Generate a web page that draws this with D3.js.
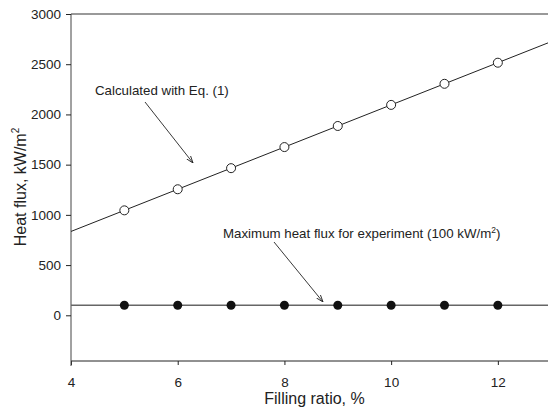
<!DOCTYPE html>
<html><head><meta charset="utf-8">
<script src="https://cdn.jsdelivr.net/npm/d3@7"></script>
<style>body{margin:0;background:#fff}svg{display:block}text{font-family:"Liberation Sans",Arial,sans-serif;fill:#222}</style>
</head><body><svg id="c" width="548" height="408"></svg>
<script>
const fillRatio = [5, 6, 7, 8, 9, 10, 11, 12];
const calcFlux = [1045, 1255, 1465, 1675, 1885, 2095, 2305, 2515];
const calcLineX = [4, 13];
const calcLineY = [835, 2725];
const expFlux = [100, 100, 100, 100, 100, 100, 100, 100];
const expLineX = [4, 13];
const expLineY = [100, 100];
const xTicks = [4, 6, 8, 10, 12];
const yTicks = [0, 500, 1000, 1500, 2000, 2500, 3000];

const svg = d3.select("#c");
const L = 71, R = 548, T = 14, B = 361;
const x = d3.scaleLinear().domain([4, 12.94]).range([L, R]);
const y = d3.scaleLinear().domain([-455, 3000]).range([B, T]);

svg.append("clipPath").attr("id","cp").append("rect").attr("x",L).attr("y",T).attr("width",R-L).attr("height",B-T);

// top border
svg.append("line").attr("x1",L).attr("x2",R).attr("y1",T).attr("y2",T).attr("stroke","#777").attr("stroke-width",1.3);

const xAxis = svg.append("g").attr("transform",`translate(0,${B})`)
  .call(d3.axisBottom(x).tickValues(xTicks).tickSizeOuter(0).tickSize(4).tickPadding(12).tickFormat(d3.format("d")));
const yAxis = svg.append("g").attr("transform",`translate(${L},0)`)
  .call(d3.axisLeft(y).tickValues(yTicks).tickSizeOuter(0).tickSize(5).tickPadding(5).tickFormat(d3.format("d")));
[xAxis, yAxis].forEach(a=>{
  a.selectAll("path").attr("stroke","#222");
  a.selectAll("line").attr("stroke","#222");
  a.selectAll("text").attr("font-size",13.5).attr("fill","#222").style("font-family","Liberation Sans, Arial, sans-serif");
});
yAxis.select("path").attr("d",`M0,${T}V${B+5}`).attr("stroke","#444");
xAxis.select("path").attr("d",`M${L},0H${R}`);

const g = svg.append("g").attr("clip-path","url(#cp)");
const line = d3.line().x(d=>x(d[0])).y(d=>y(d[1]));
g.append("path").attr("d",line(d3.zip(calcLineX,calcLineY))).attr("stroke","#222").attr("fill","none").attr("stroke-width",1);
g.append("path").attr("d",line(d3.zip(expLineX,expLineY))).attr("stroke","#666").attr("fill","none").attr("stroke-width",1.4);

g.selectAll("circle.o").data(d3.zip(fillRatio,calcFlux)).join("circle").attr("class","o")
  .attr("cx",d=>x(d[0])).attr("cy",d=>y(d[1])).attr("r",4.5).attr("fill","#fff").attr("stroke","#222").attr("stroke-width",1);
g.selectAll("circle.f").data(d3.zip(fillRatio,expFlux)).join("circle").attr("class","f")
  .attr("cx",d=>x(d[0])).attr("cy",d=>y(d[1])).attr("r",4.5).attr("fill","#111");

// annotations
const defs = svg.append("defs");
defs.append("marker").attr("id","ah").attr("viewBox","0 0 10 10").attr("refX",10).attr("refY",5)
  .attr("markerWidth",8).attr("markerHeight",8).attr("orient","auto-start-reverse")
  .append("path").attr("d","M0,1.5L10,5L0,8.5").attr("fill","none").attr("stroke","#222").attr("stroke-width",1.2);

svg.append("text").attr("x",95).attr("y",95).attr("font-size",13.3).text("Calculated with Eq. (1)");
svg.append("line").attr("x1",145).attr("y1",102).attr("x2",193).attr("y2",163).attr("stroke","#222").attr("stroke-width",0.9).attr("marker-end","url(#ah)");

const t2 = svg.append("text").attr("x",223).attr("y",238).attr("font-size",13.3);
t2.append("tspan").text("Maximum heat flux for experiment (100 kW/m");
t2.append("tspan").attr("font-size",8.5).attr("dy",-5).text("2");
t2.append("tspan").attr("dy",5).text(")");
svg.append("line").attr("x1",274).attr("y1",242).attr("x2",323).attr("y2",302).attr("stroke","#222").attr("stroke-width",0.9).attr("marker-end","url(#ah)");

// axis titles
svg.append("text").attr("x",(L+R)/2+5).attr("y",404).attr("text-anchor","middle").attr("font-size",16).text("Filling ratio, %");
const yt = svg.append("text").attr("transform",`translate(26,187) rotate(-90)`).attr("text-anchor","middle").attr("font-size",16);
yt.append("tspan").text("Heat flux, kW/m");
yt.append("tspan").attr("font-size",10).attr("dy",-7).text("2");
</script></body></html>
